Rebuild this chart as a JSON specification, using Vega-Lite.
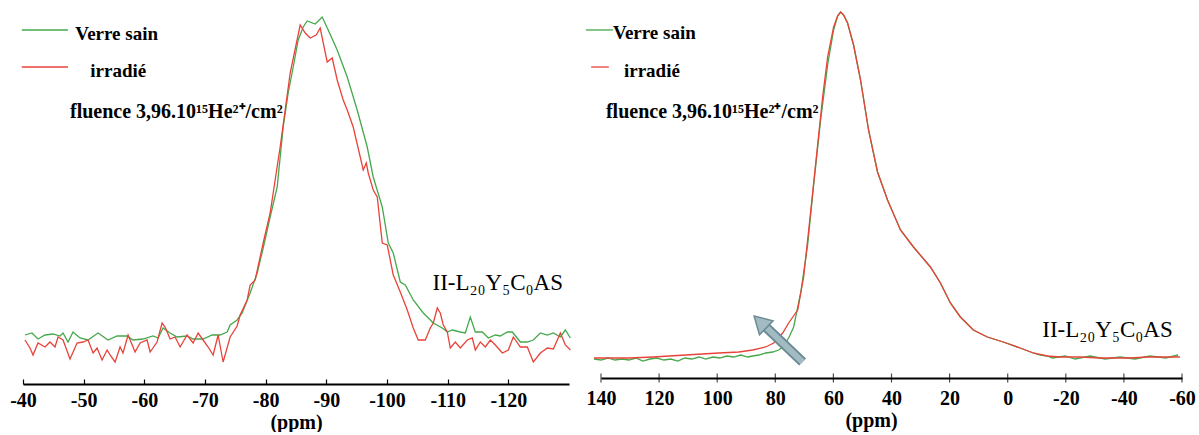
{
"$schema": "https://vega.github.io/schema/vega-lite/v6.json",
"background": "white",
"padding": {"left": 9, "top": 5, "right": 0, "bottom": 0},
"bounds": "flush",
"spacing": 32,
"config": {
 "view": {"stroke": null},
 "font": "Times New Roman",
 "axis": {"labelFont": "Times New Roman", "labelFontSize": 20, "labelFontWeight": "bold", "labelColor": "black", "titleFont": "Times New Roman", "titleFontSize": 20, "titleFontWeight": "bold", "titleColor": "black", "domainColor": "black", "domainWidth": 2, "tickColor": "black", "tickWidth": 1.2, "grid": false, "labelFlush": false, "labelOverlap": false, "labelExpr": "toString(datum.value)"}
},
"datasets": {
 "L": [
{"x":-40.33,"y":49,"s":"Verre sain"},{"x":-41.48,"y":51,"s":"Verre sain"},{"x":-42.47,"y":45,"s":"Verre sain"},{"x":-43.63,"y":49,"s":"Verre sain"},{"x":-44.95,"y":50,"s":"Verre sain"},{"x":-46.10,"y":48,"s":"Verre sain"},{"x":-46.60,"y":51,"s":"Verre sain"},{"x":-47.42,"y":42,"s":"Verre sain"},{"x":-48.25,"y":52,"s":"Verre sain"},{"x":-49.40,"y":46,"s":"Verre sain"},{"x":-50.72,"y":44,"s":"Verre sain"},{"x":-52.37,"y":51,"s":"Verre sain"},{"x":-54.02,"y":44,"s":"Verre sain"},{"x":-55.51,"y":48,"s":"Verre sain"},{"x":-57.15,"y":48,"s":"Verre sain"},{"x":-58.14,"y":44,"s":"Verre sain"},{"x":-59.79,"y":45,"s":"Verre sain"},{"x":-61.44,"y":48,"s":"Verre sain"},{"x":-62.27,"y":46,"s":"Verre sain"},{"x":-63.09,"y":56,"s":"Verre sain"},{"x":-64.25,"y":51,"s":"Verre sain"},{"x":-65.40,"y":47,"s":"Verre sain"},{"x":-67.05,"y":48,"s":"Verre sain"},{"x":-68.04,"y":45,"s":"Verre sain"},{"x":-69.69,"y":45,"s":"Verre sain"},{"x":-71.18,"y":49,"s":"Verre sain"},{"x":-72.49,"y":49,"s":"Verre sain"},{"x":-73.65,"y":52,"s":"Verre sain"},{"x":-74.14,"y":59,"s":"Verre sain"},{"x":-75.30,"y":64,"s":"Verre sain"},{"x":-76.12,"y":71,"s":"Verre sain"},{"x":-77.44,"y":91,"s":"Verre sain"},{"x":-78.60,"y":111,"s":"Verre sain"},{"x":-79.59,"y":136,"s":"Verre sain"},{"x":-80.74,"y":167,"s":"Verre sain"},{"x":-81.90,"y":197,"s":"Verre sain"},{"x":-82.39,"y":227,"s":"Verre sain"},{"x":-82.89,"y":257,"s":"Verre sain"},{"x":-83.71,"y":291,"s":"Verre sain"},{"x":-84.54,"y":317,"s":"Verre sain"},{"x":-85.36,"y":344,"s":"Verre sain"},{"x":-86.19,"y":357,"s":"Verre sain"},{"x":-86.85,"y":363,"s":"Verre sain"},{"x":-88.16,"y":360,"s":"Verre sain"},{"x":-89.32,"y":367,"s":"Verre sain"},{"x":-90.31,"y":354,"s":"Verre sain"},{"x":-91.79,"y":334,"s":"Verre sain"},{"x":-93.44,"y":307,"s":"Verre sain"},{"x":-95.09,"y":274,"s":"Verre sain"},{"x":-96.74,"y":237,"s":"Verre sain"},{"x":-97.73,"y":207,"s":"Verre sain"},{"x":-99.22,"y":177,"s":"Verre sain"},{"x":-100.21,"y":141,"s":"Verre sain"},{"x":-101.03,"y":131,"s":"Verre sain"},{"x":-102.19,"y":102,"s":"Verre sain"},{"x":-103.01,"y":99,"s":"Verre sain"},{"x":-104.33,"y":84,"s":"Verre sain"},{"x":-105.98,"y":71,"s":"Verre sain"},{"x":-107.63,"y":61,"s":"Verre sain"},{"x":-109.11,"y":56,"s":"Verre sain"},{"x":-109.94,"y":52,"s":"Verre sain"},{"x":-110.76,"y":54,"s":"Verre sain"},{"x":-112.08,"y":52,"s":"Verre sain"},{"x":-112.91,"y":51,"s":"Verre sain"},{"x":-113.73,"y":67,"s":"Verre sain"},{"x":-114.56,"y":52,"s":"Verre sain"},{"x":-115.71,"y":52,"s":"Verre sain"},{"x":-116.70,"y":46,"s":"Verre sain"},{"x":-117.86,"y":49,"s":"Verre sain"},{"x":-118.68,"y":48,"s":"Verre sain"},{"x":-119.84,"y":52,"s":"Verre sain"},{"x":-120.66,"y":52,"s":"Verre sain"},{"x":-121.98,"y":42,"s":"Verre sain"},{"x":-123.13,"y":42,"s":"Verre sain"},{"x":-124.12,"y":44,"s":"Verre sain"},{"x":-125.28,"y":51,"s":"Verre sain"},{"x":-126.43,"y":49,"s":"Verre sain"},{"x":-127.42,"y":51,"s":"Verre sain"},{"x":-128.58,"y":47,"s":"Verre sain"},{"x":-129.40,"y":54,"s":"Verre sain"},{"x":-130.23,"y":46,"s":"Verre sain"},
{"x":-40.33,"y":44,"s":"irradié"},{"x":-41.15,"y":36,"s":"irradié"},{"x":-41.65,"y":29,"s":"irradié"},{"x":-42.47,"y":41,"s":"irradié"},{"x":-43.63,"y":37,"s":"irradié"},{"x":-44.45,"y":42,"s":"irradié"},{"x":-45.28,"y":37,"s":"irradié"},{"x":-45.77,"y":47,"s":"irradié"},{"x":-46.60,"y":44,"s":"irradié"},{"x":-47.75,"y":25,"s":"irradié"},{"x":-48.91,"y":41,"s":"irradié"},{"x":-49.90,"y":42,"s":"irradié"},{"x":-50.72,"y":44,"s":"irradié"},{"x":-51.55,"y":31,"s":"irradié"},{"x":-52.21,"y":36,"s":"irradié"},{"x":-53.03,"y":24,"s":"irradié"},{"x":-53.86,"y":34,"s":"irradié"},{"x":-54.35,"y":29,"s":"irradié"},{"x":-55.18,"y":22,"s":"irradié"},{"x":-56.00,"y":37,"s":"irradié"},{"x":-56.49,"y":31,"s":"irradié"},{"x":-57.32,"y":49,"s":"irradié"},{"x":-58.47,"y":32,"s":"irradié"},{"x":-59.30,"y":41,"s":"irradié"},{"x":-60.45,"y":44,"s":"irradié"},{"x":-60.95,"y":32,"s":"irradié"},{"x":-62.10,"y":42,"s":"irradié"},{"x":-62.93,"y":61,"s":"irradié"},{"x":-63.42,"y":57,"s":"irradié"},{"x":-64.25,"y":45,"s":"irradié"},{"x":-65.07,"y":47,"s":"irradié"},{"x":-65.90,"y":37,"s":"irradié"},{"x":-67.05,"y":49,"s":"irradié"},{"x":-68.04,"y":41,"s":"irradié"},{"x":-68.87,"y":51,"s":"irradié"},{"x":-69.69,"y":44,"s":"irradié"},{"x":-70.52,"y":37,"s":"irradié"},{"x":-71.34,"y":29,"s":"irradié"},{"x":-72.16,"y":49,"s":"irradié"},{"x":-72.99,"y":22,"s":"irradié"},{"x":-74.14,"y":47,"s":"irradié"},{"x":-75.30,"y":58,"s":"irradié"},{"x":-75.79,"y":69,"s":"irradié"},{"x":-76.95,"y":84,"s":"irradié"},{"x":-77.44,"y":99,"s":"irradié"},{"x":-78.27,"y":104,"s":"irradié"},{"x":-79.59,"y":141,"s":"irradié"},{"x":-80.74,"y":171,"s":"irradié"},{"x":-82.39,"y":237,"s":"irradié"},{"x":-84.04,"y":311,"s":"irradié"},{"x":-85.69,"y":359,"s":"irradié"},{"x":-86.52,"y":351,"s":"irradié"},{"x":-87.34,"y":346,"s":"irradié"},{"x":-88.33,"y":349,"s":"irradié"},{"x":-88.99,"y":356,"s":"irradié"},{"x":-90.14,"y":322,"s":"irradié"},{"x":-90.97,"y":326,"s":"irradié"},{"x":-91.79,"y":304,"s":"irradié"},{"x":-92.78,"y":284,"s":"irradié"},{"x":-93.44,"y":274,"s":"irradié"},{"x":-94.43,"y":257,"s":"irradié"},{"x":-95.59,"y":227,"s":"irradié"},{"x":-96.08,"y":214,"s":"irradié"},{"x":-96.58,"y":221,"s":"irradié"},{"x":-96.91,"y":211,"s":"irradié"},{"x":-97.73,"y":194,"s":"irradié"},{"x":-98.39,"y":187,"s":"irradié"},{"x":-99.22,"y":141,"s":"irradié"},{"x":-100.04,"y":139,"s":"irradié"},{"x":-101.03,"y":109,"s":"irradié"},{"x":-102.19,"y":92,"s":"irradié"},{"x":-103.34,"y":74,"s":"irradié"},{"x":-104.33,"y":56,"s":"irradié"},{"x":-105.15,"y":44,"s":"irradié"},{"x":-106.31,"y":44,"s":"irradié"},{"x":-107.13,"y":56,"s":"irradié"},{"x":-107.63,"y":61,"s":"irradié"},{"x":-108.29,"y":76,"s":"irradié"},{"x":-108.78,"y":71,"s":"irradié"},{"x":-109.28,"y":59,"s":"irradié"},{"x":-109.94,"y":52,"s":"irradié"},{"x":-110.43,"y":36,"s":"irradié"},{"x":-111.26,"y":42,"s":"irradié"},{"x":-112.08,"y":36,"s":"irradié"},{"x":-113.24,"y":44,"s":"irradié"},{"x":-114.06,"y":46,"s":"irradié"},{"x":-114.56,"y":34,"s":"irradié"},{"x":-115.38,"y":42,"s":"irradié"},{"x":-116.21,"y":37,"s":"irradié"},{"x":-117.03,"y":44,"s":"irradié"},{"x":-117.86,"y":39,"s":"irradié"},{"x":-119.01,"y":31,"s":"irradié"},{"x":-120.00,"y":34,"s":"irradié"},{"x":-120.82,"y":47,"s":"irradié"},{"x":-121.98,"y":37,"s":"irradié"},{"x":-123.13,"y":37,"s":"irradié"},{"x":-124.12,"y":22,"s":"irradié"},{"x":-125.28,"y":31,"s":"irradié"},{"x":-126.43,"y":36,"s":"irradié"},{"x":-127.42,"y":35,"s":"irradié"},{"x":-128.58,"y":51,"s":"irradié"},{"x":-129.40,"y":39,"s":"irradié"},{"x":-130.23,"y":34,"s":"irradié"}
 ],
 "R": [
{"x":142.41,"y":19,"s":"Verre sain"},{"x":140.0,"y":18,"s":"Verre sain"},{"x":137.59,"y":20,"s":"Verre sain"},{"x":135.19,"y":18,"s":"Verre sain"},{"x":132.78,"y":19,"s":"Verre sain"},{"x":130.38,"y":18,"s":"Verre sain"},{"x":127.97,"y":20,"s":"Verre sain"},{"x":125.57,"y":17,"s":"Verre sain"},{"x":123.16,"y":19,"s":"Verre sain"},{"x":120.76,"y":20,"s":"Verre sain"},{"x":118.35,"y":18,"s":"Verre sain"},{"x":115.95,"y":19,"s":"Verre sain"},{"x":113.54,"y":17,"s":"Verre sain"},{"x":111.13,"y":20,"s":"Verre sain"},{"x":108.73,"y":19,"s":"Verre sain"},{"x":106.32,"y":21,"s":"Verre sain"},{"x":103.92,"y":19,"s":"Verre sain"},{"x":101.51,"y":21,"s":"Verre sain"},{"x":99.11,"y":20,"s":"Verre sain"},{"x":96.70,"y":22,"s":"Verre sain"},{"x":94.30,"y":21,"s":"Verre sain"},{"x":91.89,"y":23,"s":"Verre sain"},{"x":89.48,"y":21,"s":"Verre sain"},{"x":87.77,"y":22,"s":"Verre sain"},{"x":85.70,"y":23,"s":"Verre sain"},{"x":83.30,"y":25,"s":"Verre sain"},{"x":80.89,"y":26,"s":"Verre sain"},{"x":78.83,"y":28,"s":"Verre sain"},{"x":77.46,"y":31,"s":"Verre sain"},{"x":75.40,"y":40,"s":"Verre sain"},{"x":73.68,"y":51,"s":"Verre sain"},{"x":71.27,"y":85,"s":"Verre sain"},{"x":68.87,"y":133,"s":"Verre sain"},{"x":66.80,"y":193,"s":"Verre sain"},{"x":64.40,"y":258,"s":"Verre sain"},{"x":61.99,"y":313,"s":"Verre sain"},{"x":59.93,"y":348,"s":"Verre sain"},{"x":58.56,"y":362,"s":"Verre sain"},{"x":57.53,"y":366,"s":"Verre sain"},{"x":56.49,"y":363,"s":"Verre sain"},{"x":55.12,"y":355,"s":"Verre sain"},{"x":53.06,"y":333,"s":"Verre sain"},{"x":50.65,"y":298,"s":"Verre sain"},{"x":47.90,"y":248,"s":"Verre sain"},{"x":44.81,"y":206,"s":"Verre sain"},{"x":41.37,"y":178,"s":"Verre sain"},{"x":36.91,"y":148,"s":"Verre sain"},{"x":32.44,"y":131,"s":"Verre sain"},{"x":26.60,"y":111,"s":"Verre sain"},{"x":23.16,"y":95,"s":"Verre sain"},{"x":19.73,"y":75,"s":"Verre sain"},{"x":16.29,"y":61,"s":"Verre sain"},{"x":11.82,"y":48,"s":"Verre sain"},{"x":7.01,"y":41,"s":"Verre sain"},{"x":1.51,"y":36,"s":"Verre sain"},{"x":-4.33,"y":30,"s":"Verre sain"},{"x":-8.80,"y":25,"s":"Verre sain"},{"x":-11.20,"y":23,"s":"Verre sain"},{"x":-13.61,"y":22,"s":"Verre sain"},{"x":-15.33,"y":20,"s":"Verre sain"},{"x":-19.79,"y":22,"s":"Verre sain"},{"x":-23.23,"y":19,"s":"Verre sain"},{"x":-28.38,"y":22,"s":"Verre sain"},{"x":-33.54,"y":19,"s":"Verre sain"},{"x":-38.69,"y":21,"s":"Verre sain"},{"x":-43.85,"y":19,"s":"Verre sain"},{"x":-49.00,"y":22,"s":"Verre sain"},{"x":-54.43,"y":20,"s":"Verre sain"},{"x":-58.63,"y":23,"s":"Verre sain"},
{"x":142.41,"y":20,"s":"irradié"},{"x":130.38,"y":20,"s":"irradié"},{"x":122.13,"y":21,"s":"irradié"},{"x":110.79,"y":23,"s":"irradié"},{"x":99.45,"y":25,"s":"irradié"},{"x":92.58,"y":26,"s":"irradié"},{"x":87.77,"y":28,"s":"irradié"},{"x":83.30,"y":31,"s":"irradié"},{"x":80.55,"y":35,"s":"irradié"},{"x":77.46,"y":45,"s":"irradié"},{"x":75.40,"y":55,"s":"irradié"},{"x":72.30,"y":68,"s":"irradié"},{"x":70.24,"y":101,"s":"irradié"},{"x":67.84,"y":166,"s":"irradié"},{"x":65.43,"y":233,"s":"irradié"},{"x":63.71,"y":281,"s":"irradié"},{"x":61.99,"y":321,"s":"irradié"},{"x":59.93,"y":351,"s":"irradié"},{"x":58.56,"y":362,"s":"irradié"},{"x":57.53,"y":366,"s":"irradié"},{"x":56.49,"y":363,"s":"irradié"},{"x":55.12,"y":355,"s":"irradié"},{"x":53.06,"y":333,"s":"irradié"},{"x":50.65,"y":298,"s":"irradié"},{"x":47.90,"y":248,"s":"irradié"},{"x":44.81,"y":206,"s":"irradié"},{"x":41.37,"y":178,"s":"irradié"},{"x":36.91,"y":148,"s":"irradié"},{"x":32.44,"y":131,"s":"irradié"},{"x":26.60,"y":111,"s":"irradié"},{"x":23.16,"y":95,"s":"irradié"},{"x":19.73,"y":75,"s":"irradié"},{"x":16.29,"y":61,"s":"irradié"},{"x":11.82,"y":48,"s":"irradié"},{"x":7.01,"y":41,"s":"irradié"},{"x":1.51,"y":36,"s":"irradié"},{"x":-4.33,"y":30,"s":"irradié"},{"x":-8.80,"y":25,"s":"irradié"},{"x":-13.61,"y":22,"s":"irradié"},{"x":-18.08,"y":21,"s":"irradié"},{"x":-24.95,"y":21,"s":"irradié"},{"x":-31.82,"y":20,"s":"irradié"},{"x":-36.29,"y":20,"s":"irradié"},{"x":-42.13,"y":20,"s":"irradié"},{"x":-47.97,"y":21,"s":"irradié"},{"x":-54.16,"y":21,"s":"irradié"},{"x":-59.31,"y":21,"s":"irradié"}
 ],
 "Rticks": [{"t":140},{"t":120},{"t":100},{"t":80},{"t":60},{"t":40},{"t":20},{"t":0},{"t":-20},{"t":-40},{"t":-60}],
 "Lleg": [{"x":-39.8,"x2":-47.4,"y":354,"s":"Verre sain"},{"x":-39.8,"x2":-47.4,"y":317,"s":"irradié"}],
 "Rleg": [{"x":145.2,"x2":135.9,"y":348,"s":"Verre sain"},{"x":143.4,"x2":137.3,"y":311,"s":"irradié"}],
 "Ltb": [{"x":-48.6,"y":344,"t":"Verre sain"},{"x":-51.1,"y":307,"t":"irradié"}],
 "Ltf": [{"x":-47.75,"y":266,"t":"fluence 3,96.10¹⁵He²⁺/cm²"}],
 "Ltn": [{"x":-107.5,"y":94,"t":"II-L₂₀Y₅C₀AS"}],
 "Rtb": [{"x":135.9,"y":339,"t":"Verre sain"},{"x":132.1,"y":301,"t":"irradié"}],
 "Rtf": [{"x":138.3,"y":260,"t":"fluence 3,96.10¹⁵He²⁺/cm²"}],
 "Rtn": [{"x":-11.9,"y":41,"t":"II-L₂₀Y₅C₀AS"}],
 "Rarrow": [{"x":70.6,"y":16,"x2":83.6,"y2":52}],
 "Rhead": [{"x":85.2,"y":56}]
},
"hconcat": [
 {
  "width": 546, "height": 379,
  "layer": [
   {"data": {"name": "L"}, "mark": {"type": "line", "strokeWidth": 1.3},
    "encoding": {
     "x": {"field": "x", "type": "quantitative", "scale": {"domain": [-130, -40], "reverse": true, "nice": false, "zero": false},
           "axis": {"values": [-40,-50,-60,-70,-80,-90,-100,-110,-120], "title": "(ppm)", "tickSize": -5, "labelPadding": 11, "titlePadding": 2}},
     "y": {"field": "y", "type": "quantitative", "scale": {"domain": [0, 379], "nice": false, "zero": false}, "axis": null},
     "color": {"field": "s", "type": "nominal", "scale": {"domain": ["Verre sain", "irradié"], "range": ["#45a84b", "#e8433a"]}, "legend": null}
    }},
   {"data": {"name": "Lleg"}, "mark": {"type": "rule", "strokeWidth": 1.3},
    "encoding": {"x": {"field": "x", "type": "quantitative"}, "x2": {"field": "x2"}, "y": {"field": "y", "type": "quantitative"},
     "color": {"field": "s", "type": "nominal", "legend": null}}},
   {"data": {"name": "Ltb"}, "mark": {"type": "text", "align": "left", "baseline": "alphabetic", "fontSize": 19, "fontWeight": "bold", "font": "Times New Roman", "color": "black"},
    "encoding": {"x": {"field": "x", "type": "quantitative"}, "y": {"field": "y", "type": "quantitative"}, "text": {"field": "t"}}},
   {"data": {"name": "Ltf"}, "mark": {"type": "text", "align": "left", "baseline": "alphabetic", "fontSize": 20, "fontWeight": "bold", "font": "Times New Roman", "color": "black"},
    "encoding": {"x": {"field": "x", "type": "quantitative"}, "y": {"field": "y", "type": "quantitative"}, "text": {"field": "t"}}},
   {"data": {"name": "Ltn"}, "mark": {"type": "text", "align": "left", "baseline": "alphabetic", "fontSize": 23, "font": "Times New Roman", "color": "black"},
    "encoding": {"x": {"field": "x", "type": "quantitative"}, "y": {"field": "y", "type": "quantitative"}, "text": {"field": "t"}}}
  ]
 },
 {
  "width": 581, "height": 373,
  "layer": [
   {"data": {"name": "R"}, "mark": {"type": "line", "strokeWidth": 1.3},
    "encoding": {
     "x": {"field": "x", "type": "quantitative", "scale": {"domain": [-60, 140], "reverse": true, "nice": false, "zero": false},
           "axis": {"values": [140,120,100,80,60,40,20,0,-20,-40,-60], "title": "(ppm)", "ticks": false, "labelPadding": 10, "titlePadding": 2, "titleX": 270}},
     "y": {"field": "y", "type": "quantitative", "scale": {"domain": [0, 373], "nice": false, "zero": false}, "axis": null},
     "color": {"field": "s", "type": "nominal", "scale": {"domain": ["Verre sain", "irradié"], "range": ["#45a84b", "#e8433a"]}, "legend": null}
    }},
   {"data": {"name": "Rticks"}, "mark": {"type": "tick", "orient": "vertical", "size": 9, "thickness": 1.2, "color": "black"},
    "encoding": {"x": {"field": "t", "type": "quantitative"}, "y": {"datum": 0, "type": "quantitative"}}},
   {"data": {"name": "Rleg"}, "mark": {"type": "rule", "strokeWidth": 1.3},
    "encoding": {"x": {"field": "x", "type": "quantitative"}, "x2": {"field": "x2"}, "y": {"field": "y", "type": "quantitative"},
     "color": {"field": "s", "type": "nominal", "legend": null}}},
   {"data": {"name": "Rarrow"}, "mark": {"type": "rule", "strokeWidth": 10, "color": "#6b8a93", "strokeCap": "butt"},
    "encoding": {"x": {"field": "x", "type": "quantitative"}, "y": {"field": "y", "type": "quantitative"}, "x2": {"field": "x2"}, "y2": {"field": "y2"}}},
   {"data": {"name": "Rarrow"}, "mark": {"type": "rule", "strokeWidth": 6, "color": "#a2bbc2", "strokeCap": "butt"},
    "encoding": {"x": {"field": "x", "type": "quantitative"}, "y": {"field": "y", "type": "quantitative"}, "x2": {"field": "x2"}, "y2": {"field": "y2"}}},
   {"data": {"name": "Rhead"}, "mark": {"type": "point", "shape": "triangle-up", "angle": -46, "size": 380, "filled": true, "fill": "#a2bbc2", "stroke": "#6b8a93", "strokeWidth": 1.5, "opacity": 1},
    "encoding": {"x": {"field": "x", "type": "quantitative"}, "y": {"field": "y", "type": "quantitative"}}},
   {"data": {"name": "Rtb"}, "mark": {"type": "text", "align": "left", "baseline": "alphabetic", "fontSize": 19, "fontWeight": "bold", "font": "Times New Roman", "color": "black"},
    "encoding": {"x": {"field": "x", "type": "quantitative"}, "y": {"field": "y", "type": "quantitative"}, "text": {"field": "t"}}},
   {"data": {"name": "Rtf"}, "mark": {"type": "text", "align": "left", "baseline": "alphabetic", "fontSize": 20, "fontWeight": "bold", "font": "Times New Roman", "color": "black"},
    "encoding": {"x": {"field": "x", "type": "quantitative"}, "y": {"field": "y", "type": "quantitative"}, "text": {"field": "t"}}},
   {"data": {"name": "Rtn"}, "mark": {"type": "text", "align": "left", "baseline": "alphabetic", "fontSize": 23, "font": "Times New Roman", "color": "black"},
    "encoding": {"x": {"field": "x", "type": "quantitative"}, "y": {"field": "y", "type": "quantitative"}, "text": {"field": "t"}}}
  ]
 }
]
}
